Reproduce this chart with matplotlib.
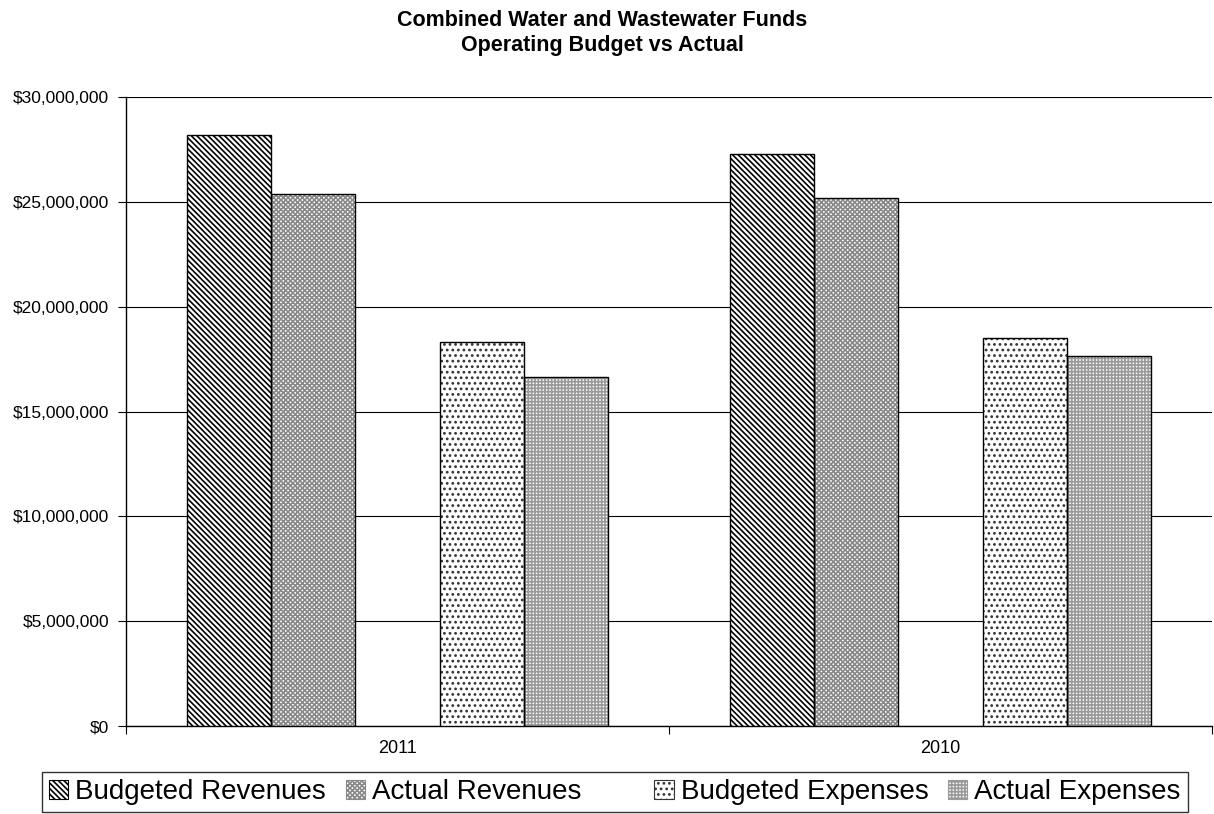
import matplotlib
matplotlib.use('Agg')
import matplotlib.pyplot as plt
import matplotlib.patches as mpatches
from matplotlib.ticker import FuncFormatter
import numpy as np

plt.rcParams['font.family'] = ['Liberation Sans', 'DejaVu Sans']
plt.rcParams['hatch.linewidth'] = 1.2

# Data
years = ['2011', '2010']
budgeted_revenues = [28200000, 27300000]
actual_revenues = [25350000, 25200000]
budgeted_expenses = [18300000, 18500000]
actual_expenses = [16650000, 17650000]

series = [
    ('Budgeted Revenues', budgeted_revenues, '\\\\\\\\\\\\', 'black', -2),
    ('Actual Revenues', actual_revenues, 'xxxxxxx', '#8a8a8a', -1),
    ('Budgeted Expenses', budgeted_expenses, '...', '#333333', 1),
    ('Actual Expenses', actual_expenses, '+++++', '#9a9a9a', 2),
]

fig = plt.figure(figsize=(12.14, 8.14), dpi=100)
ax = fig.add_axes([126/1214, 1 - 726/814, (1212 - 126)/1214, (726 - 97)/814])

x = np.arange(len(years))
width = 0.155

handles = []
for name, vals, hatch, hcol, off in series:
    # hatch layer then black outline on top
    ax.bar(x + off*width, vals, width, color='white', edgecolor=hcol,
           hatch=hatch, linewidth=0, zorder=3)
    ax.bar(x + off*width, vals, width, fill=False, edgecolor='black',
           linewidth=1.0, zorder=4)
    handles.append(mpatches.Patch(facecolor='white', edgecolor=hcol, hatch=hatch,
                                  linewidth=0.8, label=name))

ax.set_ylim(0, 30000000)
ax.set_xlim(-0.5, 1.5)
ax.set_yticks(np.arange(0, 30000001, 5000000))
ax.yaxis.set_major_formatter(FuncFormatter(lambda v, p: f'${v:,.0f}'))
ax.grid(axis='y', color='black', linewidth=0.8, zorder=0)

ax.set_xticks([-0.5, 0.5, 1.5])
ax.set_xticklabels(['', '', ''])
ax.set_xticks(x, minor=True)
ax.set_xticklabels(years, minor=True, fontsize=13)
ax.tick_params(axis='x', which='minor', length=0, pad=10)
ax.tick_params(axis='x', which='major', length=6, direction='out')
ax.tick_params(axis='y', length=6, direction='out', labelsize=12.5, pad=6)

for s in ['top', 'right']:
    ax.spines[s].set_visible(False)
ax.spines['left'].set_linewidth(1.0)
ax.spines['bottom'].set_linewidth(1.0)

fig.text(0.496, 0.988, 'Combined Water and Wastewater Funds\nOperating Budget vs Actual',
         ha='center', va='top', fontsize=15.5, fontweight='bold', linespacing=1.25)

blank = mpatches.Patch(facecolor='none', edgecolor='none', label=' ')
leg_handles = handles[:2] + [blank] + handles[2:]
leg = fig.legend(handles=leg_handles, loc='upper left', ncol=5,
                 bbox_to_anchor=(42/1214, 1 - 772/814), fontsize=20,
                 frameon=True, fancybox=False, edgecolor='black',
                 handlelength=0.7, handleheight=0.7, handletextpad=0.25,
                 columnspacing=0.7, borderpad=0.25, borderaxespad=0)
leg.get_frame().set_linewidth(1.0)

plt.savefig('out.png', dpi=100)
